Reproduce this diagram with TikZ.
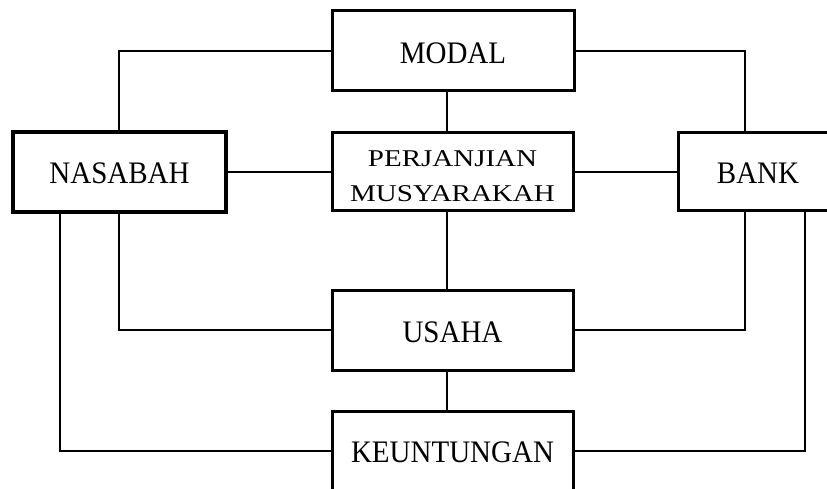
\documentclass[tikz,border=0pt]{standalone}
\usepackage{fontspec}
\setmainfont{Liberation Serif}
\usepackage{graphicx}
\begin{document}
\begin{tikzpicture}[x=1pt,y=-1pt,
  box/.style={draw, line width=3pt, rectangle, inner sep=0pt, fill=white},
  lbl/.style={inner sep=0pt, font=\fontsize{29}{35}\selectfont},
  link/.style={line width=2pt}]
\clip (0,0) rectangle (827,489);
\fill[white] (0,0) rectangle (827,489);
% column coordinates for connectors
\coordinate (cL) at (60,0);
\coordinate (cA) at (119,0);
\coordinate (cM) at (447,0);
\coordinate (cE) at (745,0);
\coordinate (cR) at (805,0);
% boxes
\node[box, minimum width=242pt, minimum height=80pt] (modal) at (453,51) {};
\node[lbl] (modaltext) at (453,53) {\scalebox{1}[1.08]{MODAL}};
\node[box, line width=3.3pt, minimum width=213pt, minimum height=80pt] (nasabah) at (119.5,172) {};
\node[lbl] (nasabahtext) at (119.5,173) {\scalebox{1}[1.08]{NASABAH}};
\node[box, minimum width=241pt, minimum height=78pt] (perj) at (452.5,172) {};
\node[lbl, align=center] (perjtext) at (452.5,177) {\scalebox{1}[0.83]{\fontsize{29}{42}\selectfont\begin{tabular}{@{}c@{}}PERJANJIAN\\MUSYARAKAH\end{tabular}}};
\node[box, minimum width=160pt, minimum height=78pt] (bank) at (758,172) {};
\node[lbl] (banktext) at (758,173) {\scalebox{1}[1.08]{BANK}};
\node[box, minimum width=241pt, minimum height=80pt] (usaha) at (452.5,330) {};
\node[lbl] (usahatext) at (452.5,332) {\scalebox{1}[1.08]{USAHA}};
\node[box, minimum width=241pt, minimum height=80pt] (keun) at (452.5,451) {};
\node[lbl] (keuntext) at (452.5,452) {\scalebox{1}[1.08]{KEUNTUNGAN}};
% connectors
\draw[link] (nasabah.north -| cA) |- (modal.west);
\draw[link] (modal.east) -| (bank.north -| cE);
\draw[link] (modal.south -| cM) -- (perj.north -| cM);
\draw[link] (nasabah.east) -- (perj.west);
\draw[link] (perj.east) -- (bank.west);
\draw[link] (perj.south -| cM) -- (usaha.north -| cM);
\draw[link] (nasabah.south -| cA) |- (usaha.west);
\draw[link] (bank.south -| cE) |- (usaha.east);
\draw[link] (usaha.south -| cM) -- (keun.north -| cM);
\draw[link] (nasabah.south -| cL) |- (keun.west);
\draw[link] (bank.south -| cR) |- (keun.east);
\end{tikzpicture}
\end{document}
